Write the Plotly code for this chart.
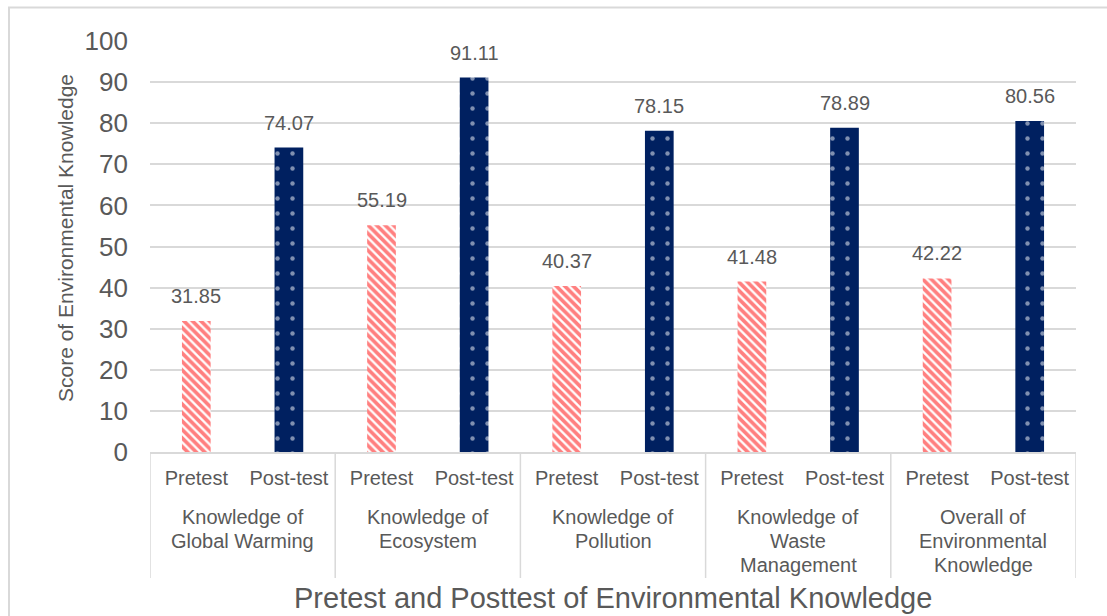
import plotly.graph_objects as go

groups = ["Knowledge of\nGlobal Warming", "Knowledge of\nEcosystem", "Knowledge of\nPollution",
          "Knowledge of\nWaste\nManagement", "Overall of\nEnvironmental\nKnowledge"]
tests = ["Pretest", "Post-test"]
pretest = [31.85, 55.19, 40.37, 41.48, 42.22]
posttest = [74.07, 91.11, 78.15, 78.89, 80.56]
yticks = [0, 10, 20, 30, 40, 50, 60, 70, 80, 90, 100]

GRAY = "#595959"
LINE = "#D9D9D9"
FONT = "Liberation Sans"

# category positions (two per group)
pre_x = [2 * i for i in range(len(groups))]
post_x = [2 * i + 1 for i in range(len(groups))]
all_x = []
all_txt = []
for i in range(len(groups)):
    all_x += [pre_x[i], post_x[i]]
    all_txt += tests

fig = go.Figure()
fig.add_trace(go.Bar(
    x=pre_x, y=pretest, name="Pretest", width=0.31,
    marker=dict(color="white", line=dict(width=0),
                pattern=dict(shape="\\", fgcolor="#FF0000", bgcolor="white", size=6, solidity=0.62)),
))
fig.add_trace(go.Bar(
    x=post_x, y=posttest, name="Post-test", width=0.31,
    marker=dict(color="#002060", line=dict(width=0),
                pattern=dict(shape=".", fgcolor="white", bgcolor="#002060", size=15, solidity=0.07)),
))

annotations = []
# data labels
for xs, vs in ((pre_x, pretest), (post_x, posttest)):
    for x, v in zip(xs, vs):
        annotations.append(dict(x=x, y=v, xref="x", yref="y", text=f"{v:.2f}", showarrow=False,
                                yanchor="middle", yshift=25,
                                font=dict(size=20, color=GRAY, family=FONT)))

# plot area geometry in px: top 41, bottom 452
top_px, bot_px = 41, 452
h = bot_px - top_px
def py(p):
    return (bot_px - p) / h

# group labels (one annotation per line for tight line spacing)
line_centers = [517, 541, 565]
for i, g in enumerate(groups):
    for j, ln in enumerate(g.split("\n")):
        annotations.append(dict(x=(pre_x[i] + post_x[i]) / 2, y=py(line_centers[j]), xref="x", yref="paper",
                                text=ln, showarrow=False, yanchor="middle",
                                font=dict(size=20, color=GRAY, family=FONT)))

# axis titles
annotations.append(dict(x=0.5, y=py(598), xref="paper", yref="paper", showarrow=False, yanchor="middle",
                        text="Pretest and Posttest of Environmental Knowledge",
                        font=dict(size=29, color=GRAY, family=FONT)))
annotations.append(dict(x=(65 - 150) / 926, y=py(238), xref="paper", yref="paper", showarrow=False,
                        xanchor="center", yanchor="middle", textangle=-90,
                        text="Score of Environmental Knowledge",
                        font=dict(size=21, color=GRAY, family=FONT)))

shapes = []
# group dividers
for b in [-0.5] + [p + 0.5 for p in post_x]:
    shapes.append(dict(type="line", xref="x", yref="paper", x0=b, x1=b, y0=0, y1=py(578),
                       line=dict(color=LINE, width=1.5)))
# outer chart border
shapes.append(dict(type="rect", xref="paper", yref="paper",
                   x0=(9 - 150) / 926, x1=(1200 - 150) / 926, y0=py(7.5), y1=py(700),
                   line=dict(color=LINE, width=2), fillcolor="rgba(0,0,0,0)", layer="below"))

fig.update_layout(
    width=1107, height=616,
    margin=dict(l=150, r=31, t=41, b=164),
    paper_bgcolor="white", plot_bgcolor="white",
    showlegend=False, barmode="overlay",
    font=dict(family=FONT, color=GRAY),
    xaxis=dict(
        range=[-0.5, 9.5], tickvals=all_x, ticktext=all_txt,
        showline=True, linecolor=LINE, linewidth=1.5,
        showgrid=False, zeroline=False, ticks="",
        tickfont=dict(size=20, color=GRAY, family=FONT),
        ticklabelstandoff=7,
    ),
    yaxis=dict(
        range=[0, 100], tickvals=yticks,
        showgrid=True, gridcolor=LINE, gridwidth=1.5,
        zeroline=False, showline=False, ticks="",
        tickfont=dict(size=26, color=GRAY, family=FONT),
        ticklabelstandoff=21,
    ),
    annotations=annotations,
    shapes=shapes,
)

fig.write_html("out.html")
